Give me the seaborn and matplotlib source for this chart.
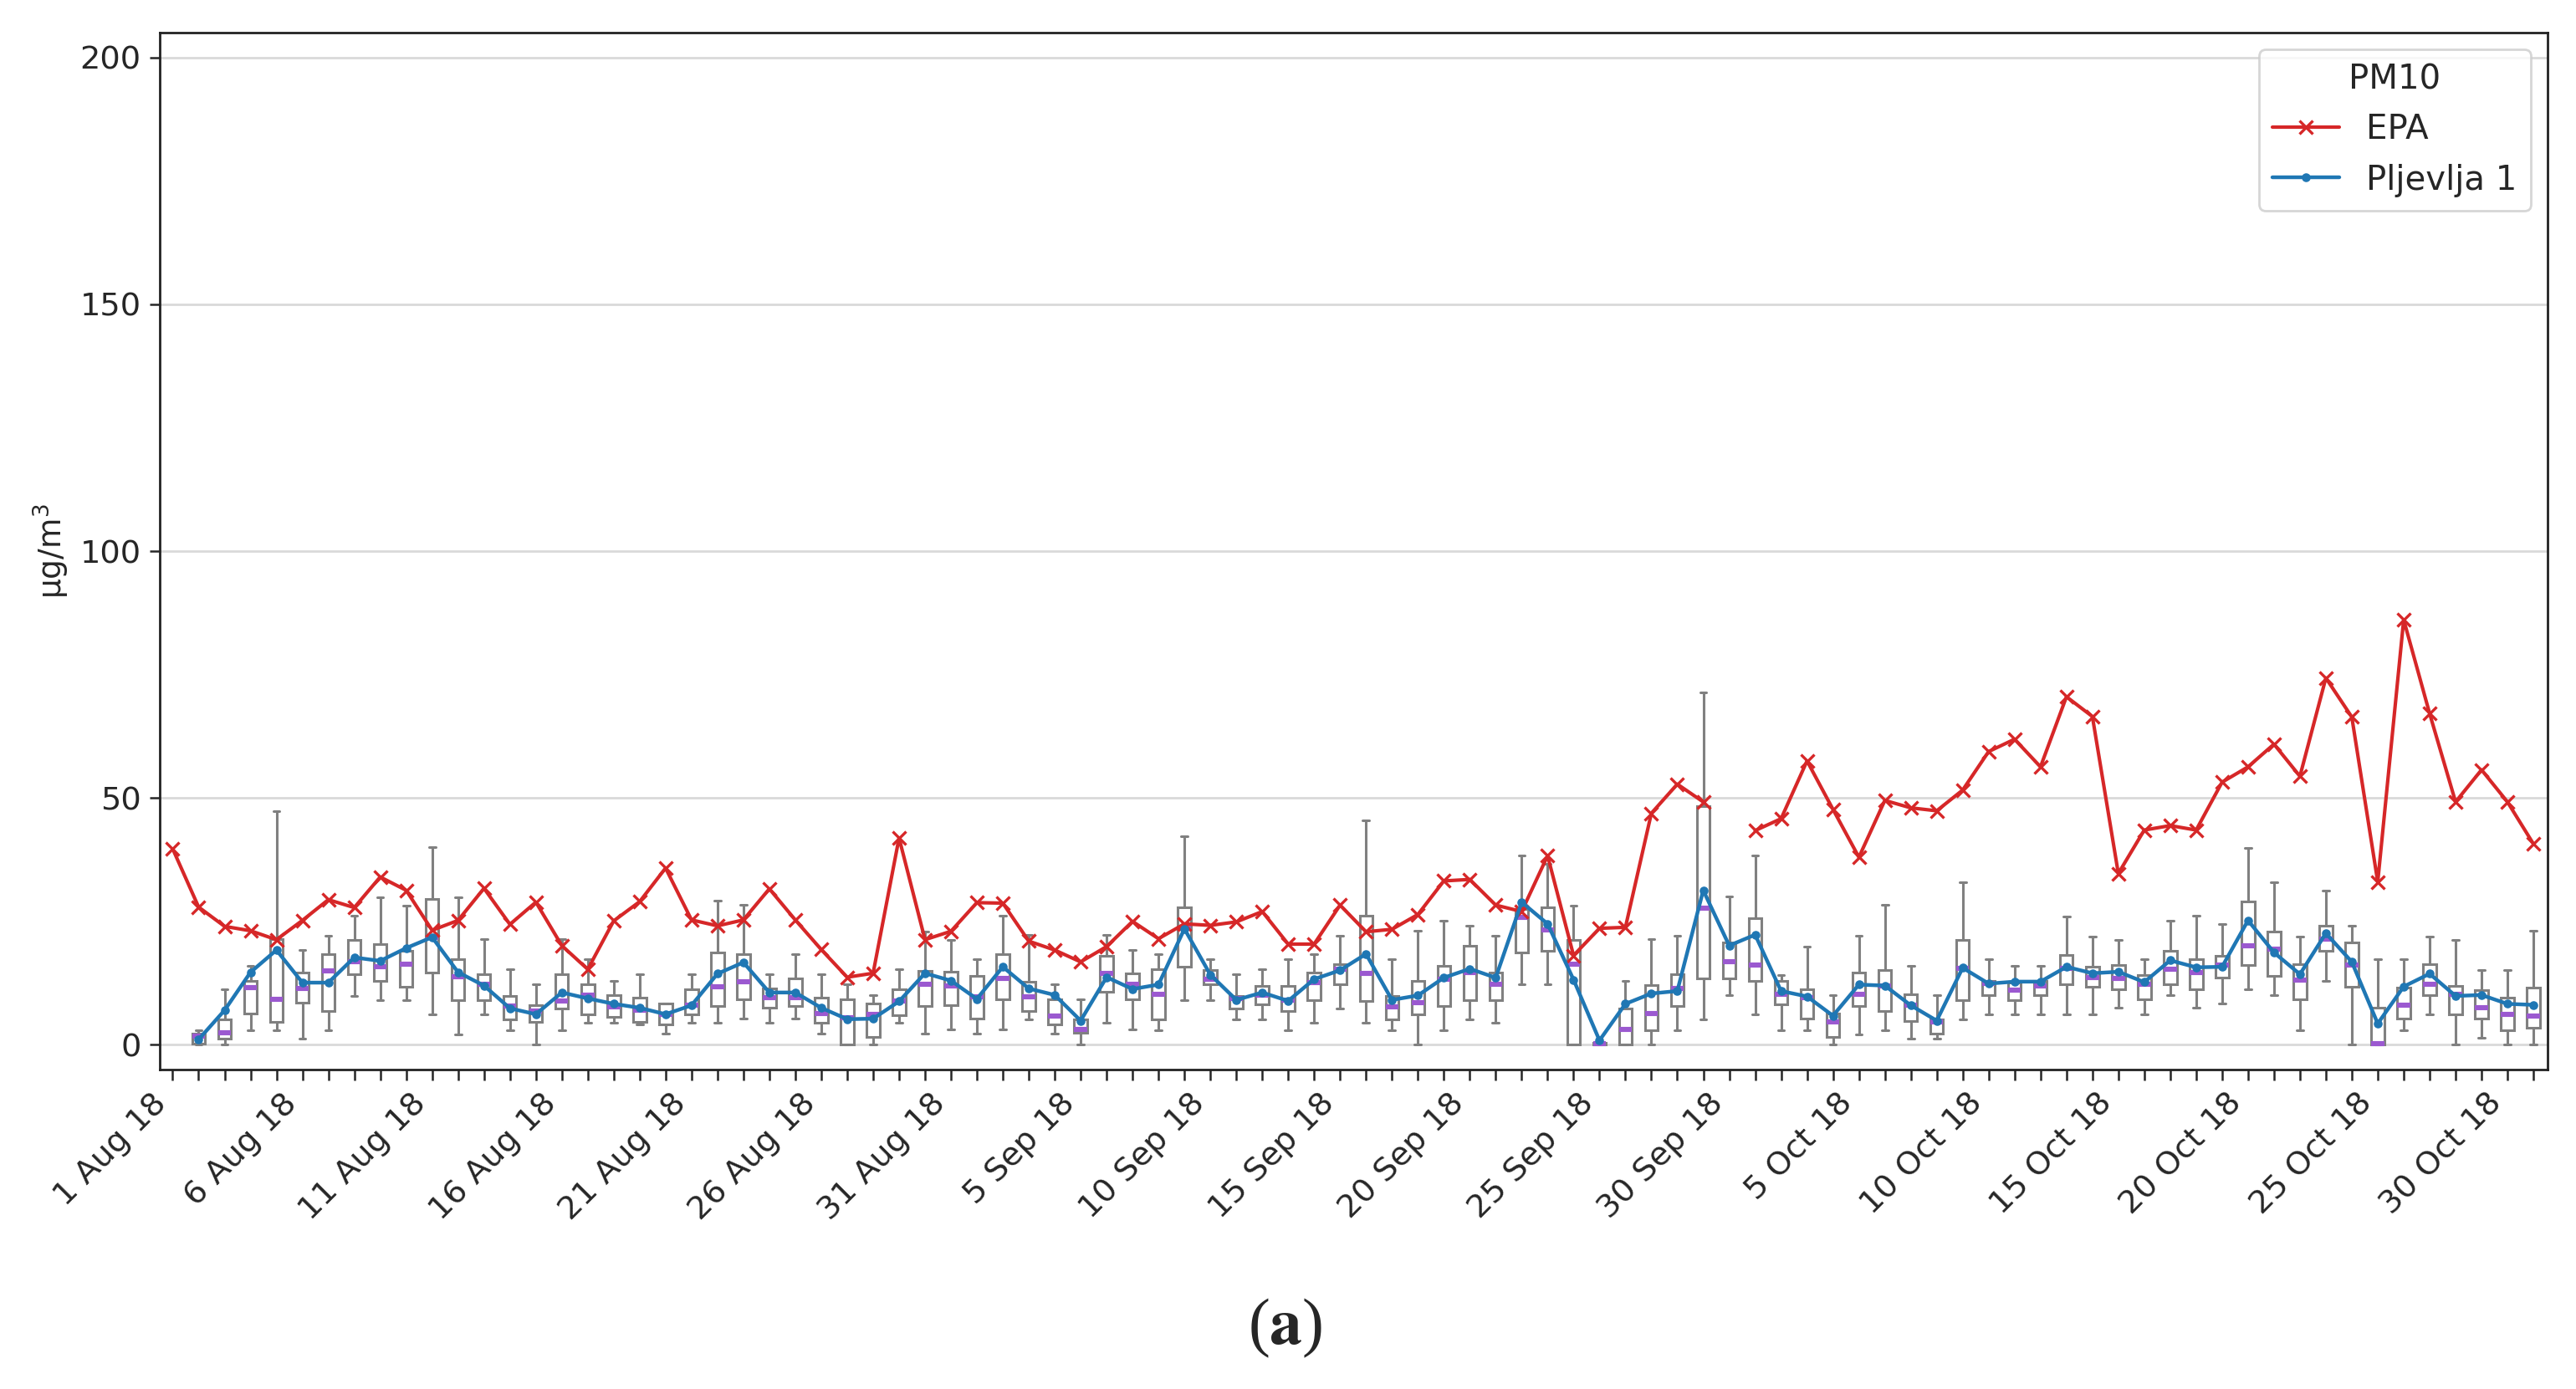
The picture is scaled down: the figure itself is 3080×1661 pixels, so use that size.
import numpy as np
import pandas as pd
import matplotlib.pyplot as plt
from matplotlib.lines import Line2D
import seaborn as sns

# daily values, 1 Aug 2018 .. 31 Oct 2018 (92 days)
dates = pd.date_range("2018-08-01", "2018-10-31", freq="D")

epa = [39.7, 27.9, 24.0, 23.1, 21.3, 25.2, 29.4, 27.8, 34.0, 31.3,
       23.2, 25.2, 31.7, 24.4, 28.9, 20.1, 15.3, 25.1, 29.0, 35.8,
       25.3, 24.1, 25.3, 31.6, 25.3, 19.3, 13.7, 14.5, 41.9, 21.3,
       23.0, 28.8, 28.7, 21.0, 19.2, 16.8, 19.9, 25.0, 21.5, 24.5,
       24.2, 24.9, 27.0, 20.4, 20.4, 28.3, 22.9, 23.4, 26.4, 33.2,
       33.5, 28.3, 27.0, 38.3, 18.1, 23.6, 23.8, 46.9, 52.8, 49.2,
       np.nan, 43.4, 45.8, 57.5, 47.7, 38.0, 49.5, 48.0, 47.4, 51.6,
       59.4, 61.9, 56.3, 70.5, 66.5, 34.7, 43.5, 44.4, 43.5, 53.2,
       56.3, 60.9, 54.4, 74.3, 66.4, 33.0, 86.1, 67.1, 49.2, 55.7,
       49.2, 40.7]

pljevlja_mean = [np.nan, 1.1, 7.0, 14.7, 19.2, 12.6, 12.6, 17.7, 17.0, 19.6,
                 21.8, 14.7, 12.0, 7.4, 6.2, 10.6, 9.4, 8.3, 7.5, 6.2,
                 8.0, 14.4, 16.7, 10.6, 10.6, 7.5, 5.2, 5.3, 8.8, 14.5,
                 13.0, 9.3, 15.8, 11.4, 10.1, 4.9, 13.7, 11.3, 12.2, 23.5,
                 14.2, 9.1, 10.6, 8.9, 13.3, 15.1, 18.4, 9.1, 10.0, 13.6,
                 15.4, 13.6, 28.9, 24.5, 13.2, 0.9, 8.3, 10.4, 10.9, 31.3,
                 20.1, 22.3, 10.9, 9.8, 5.9, 12.2, 12.0, 8.0, 4.9, 15.6,
                 12.4, 12.8, 12.8, 15.8, 14.5, 14.8, 12.7, 17.1, 15.7, 15.8,
                 25.2, 18.7, 14.3, 22.6, 16.8, 4.3, 11.8, 14.4, 9.9, 10.1,
                 8.3, 8.1]

# five-number summaries of the hourly Pljevlja 1 data, 2 Aug .. 31 Oct
box_low = [0, 0, 2.9, 2.9, 1.3, 2.9, 9.9, 9.1, 9.1, 6.1,
           2.1, 6.1, 2.9, 0, 2.9, 4.4, 4.4, 4.2, 2.2, 4.5,
           4.5, 5.3, 4.5, 5.3, 2.2, 0, 0, 4.5, 2.2, 3.1,
           2.2, 3.1, 5.2, 2.2, 0, 4.5, 3.1, 2.9, 9.1, 9.1,
           5.2, 5.2, 2.9, 4.4, 7.4, 4.4, 2.9, 0, 2.9, 5.2,
           4.4, 12.2, 12.2, 0, 0, 0, 0, 3.0, 5.2, 10.1,
           6.2, 3.0, 3.0, 0, 2.1, 3.0, 1.3, 1.3, 5.2, 6.2,
           6.2, 6.2, 6.2, 6.1, 7.5, 6.1, 10.1, 7.5, 8.3, 11.3,
           10.1, 3.0, 13.0, 0, 0, 3.0, 6.1, 0, 1.4, 0,
           0]
box_q1 = [0.3, 1.3, 6.3, 4.7, 8.6, 6.9, 14.3, 13.0, 11.7, 14.7,
          9.1, 9.1, 5.2, 4.6, 7.4, 6.1, 5.7, 4.6, 4.2, 6.2,
          7.8, 9.2, 7.5, 7.8, 4.5, 0, 1.6, 6.0, 7.9, 8.0,
          5.3, 9.2, 6.9, 4.1, 2.4, 10.7, 9.3, 5.2, 15.9, 12.2,
          7.4, 8.2, 6.9, 9.1, 12.2, 8.8, 5.1, 6.1, 7.8, 9.1,
          9.1, 18.7, 19.1, 0, 0, 0, 3.0, 7.8, 13.5, 13.5,
          13.0, 8.2, 5.3, 1.6, 7.8, 6.9, 4.8, 2.3, 9.1, 10.1,
          9.1, 10.1, 12.2, 11.8, 11.3, 9.2, 12.2, 11.3, 13.6, 16.1,
          13.9, 9.2, 19.1, 11.8, 0, 5.3, 10.1, 6.1, 5.3, 3.0,
          3.5]
box_med = [1.8, 2.4, 11.6, 9.2, 11.5, 15.0, 16.8, 15.8, 16.3, 21.7,
           13.8, 12.3, 7.9, 6.8, 8.9, 10.0, 7.7, 7.0, 6.2, 8.0,
           11.7, 12.8, 9.5, 9.5, 6.3, 5.5, 6.2, 8.9, 12.3, 12.0,
           9.8, 13.4, 9.8, 5.8, 3.1, 14.5, 12.3, 10.2, 23.6, 13.3,
           9.4, 10.0, 9.1, 12.6, 15.4, 14.4, 7.7, 8.5, 13.3, 14.6,
           12.3, 25.8, 23.2, 16.3, 0.2, 3.1, 6.3, 11.4, 27.7, 16.8,
           16.1, 10.3, 9.5, 4.6, 10.3, 11.9, 8.0, 4.6, 15.5, 12.4,
           11.1, 12.0, 15.5, 13.7, 13.5, 12.3, 15.4, 14.6, 16.2, 20.1,
           19.4, 13.2, 21.5, 16.2, 0.2, 8.1, 12.3, 10.2, 7.6, 6.2,
           5.8]
box_q3 = [2.2, 5.2, 13.0, 21.5, 14.7, 18.3, 21.3, 20.4, 19.0, 29.6,
          17.4, 14.3, 9.9, 8.0, 14.3, 12.2, 10.0, 9.6, 8.3, 11.2,
          18.7, 18.4, 11.5, 13.5, 9.6, 9.2, 8.3, 11.2, 14.9, 14.8,
          13.9, 18.4, 12.7, 9.2, 5.2, 18.1, 14.5, 15.3, 27.8, 15.1,
          9.9, 12.0, 12.0, 14.7, 16.4, 26.1, 9.9, 13.0, 16.0, 20.0,
          14.7, 27.5, 27.8, 21.3, 0.4, 7.4, 12.1, 14.3, 48.4, 20.8,
          25.6, 12.9, 11.3, 6.4, 14.7, 15.2, 10.3, 5.1, 21.2, 12.9,
          12.6, 13.0, 18.2, 15.8, 16.2, 14.1, 19.0, 17.3, 18.0, 29.1,
          22.9, 16.4, 24.2, 20.8, 7.5, 11.6, 16.4, 12.0, 11.1, 9.5,
          11.6]
box_high = [2.9, 11.3, 16.0, 47.3, 19.2, 22.1, 26.1, 29.9, 28.2, 40.0,
            29.9, 21.4, 15.3, 12.2, 21.4, 17.3, 13.0, 14.3, 8.4, 14.3,
            29.2, 28.3, 14.3, 18.4, 14.3, 12.3, 10.0, 15.4, 23.0, 21.2,
            17.4, 26.1, 22.2, 12.3, 9.2, 22.2, 19.2, 18.3, 42.3, 17.3,
            14.3, 15.3, 17.3, 18.3, 22.1, 45.4, 17.3, 23.1, 25.2, 24.2,
            22.1, 38.3, 36.6, 28.2, 0.6, 13.0, 21.4, 22.1, 71.3, 30.0,
            38.3, 14.2, 19.9, 10.0, 22.1, 28.3, 16.0, 10.0, 32.9, 17.4,
            16.0, 16.0, 26.0, 22.0, 21.2, 17.3, 25.2, 26.1, 24.4, 39.9,
            33.0, 22.0, 31.2, 24.2, 17.3, 17.3, 22.0, 21.2, 15.1, 15.1,
            23.1]

day = np.arange(1, len(dates) + 1)
tick_labels = [f"{d.day} {d.strftime('%b %y')}" if i % 5 == 0 else ""
               for i, d in enumerate(dates)]

box_df = pd.DataFrame({
    "day": np.repeat(day[1:], 5),
    "value": np.column_stack([box_low, box_q1, box_med, box_q3, box_high]).ravel(),
})

# EPA series has a missing day; split into segments so the line breaks there
epa_df = pd.DataFrame({"day": day, "value": epa})
epa_df["segment"] = epa_df["value"].isna().cumsum()
epa_df = epa_df.dropna()
mean_df = pd.DataFrame({"day": day, "value": pljevlja_mean}).dropna()

sns.set_style("ticks")
plt.rcParams["font.family"] = ["DejaVu Sans"]

fig, ax = plt.subplots(figsize=(15.4, 8.305), dpi=200)
fig.subplots_adjust(left=0.062, right=0.989, top=0.9765, bottom=0.23)
ax.yaxis.grid(True, color="#d9d9d9", linewidth=1.0)
ax.set_axisbelow(True)

sns.boxplot(data=box_df, x="day", y="value", native_scale=True, whis=(0, 100),
            showfliers=False, width=0.5, color="white", linecolor="#808080",
            linewidth=1.1, medianprops={"color": "#9b59d0", "linewidth": 2.2},
            ax=ax)

red = "#d62728"
blue = "#1f77b4"
sns.lineplot(data=epa_df, x="day", y="value", units="segment", estimator=None,
             color=red, marker="x", markersize=5.5, markeredgewidth=1.2,
             markeredgecolor=red, linewidth=1.5, ax=ax, zorder=4)
sns.lineplot(data=mean_df, x="day", y="value", color=blue, marker="o",
             markersize=3.8, markeredgewidth=0, linewidth=1.6, ax=ax, zorder=5)

ax.set_xlim(0.5, 92.55)
ax.set_ylim(-5, 205)
ax.set_yticks([0, 50, 100, 150, 200])
ax.set_xticks(day)
ax.set_xticklabels(tick_labels, rotation=45, ha="right")
ax.tick_params(axis="both", labelsize=13.8, length=4.5, width=0.9)
ax.set_xlabel("")
ax.set_ylabel("μg/m$^3$", fontsize=13.5)
for s in ax.spines.values():
    s.set_linewidth(1.0)
    s.set_color("#222222")

handles = [Line2D([], [], color=red, marker="x", markersize=5.5, markeredgewidth=1.2, linewidth=1.5),
           Line2D([], [], color=blue, marker="o", markersize=3.8, markeredgewidth=0, linewidth=1.6)]
ax.legend(handles, ["EPA", "Pljevlja 1"], title="PM10", loc="upper right",
          fontsize=14.5, title_fontsize=14.5)

fig.text(0.499, 0.044, r"($\mathbf{a}$)", ha="center", va="center", fontsize=28,
         family="Liberation Serif", math_fontfamily="stix")

fig.savefig("out.png", dpi=200)
